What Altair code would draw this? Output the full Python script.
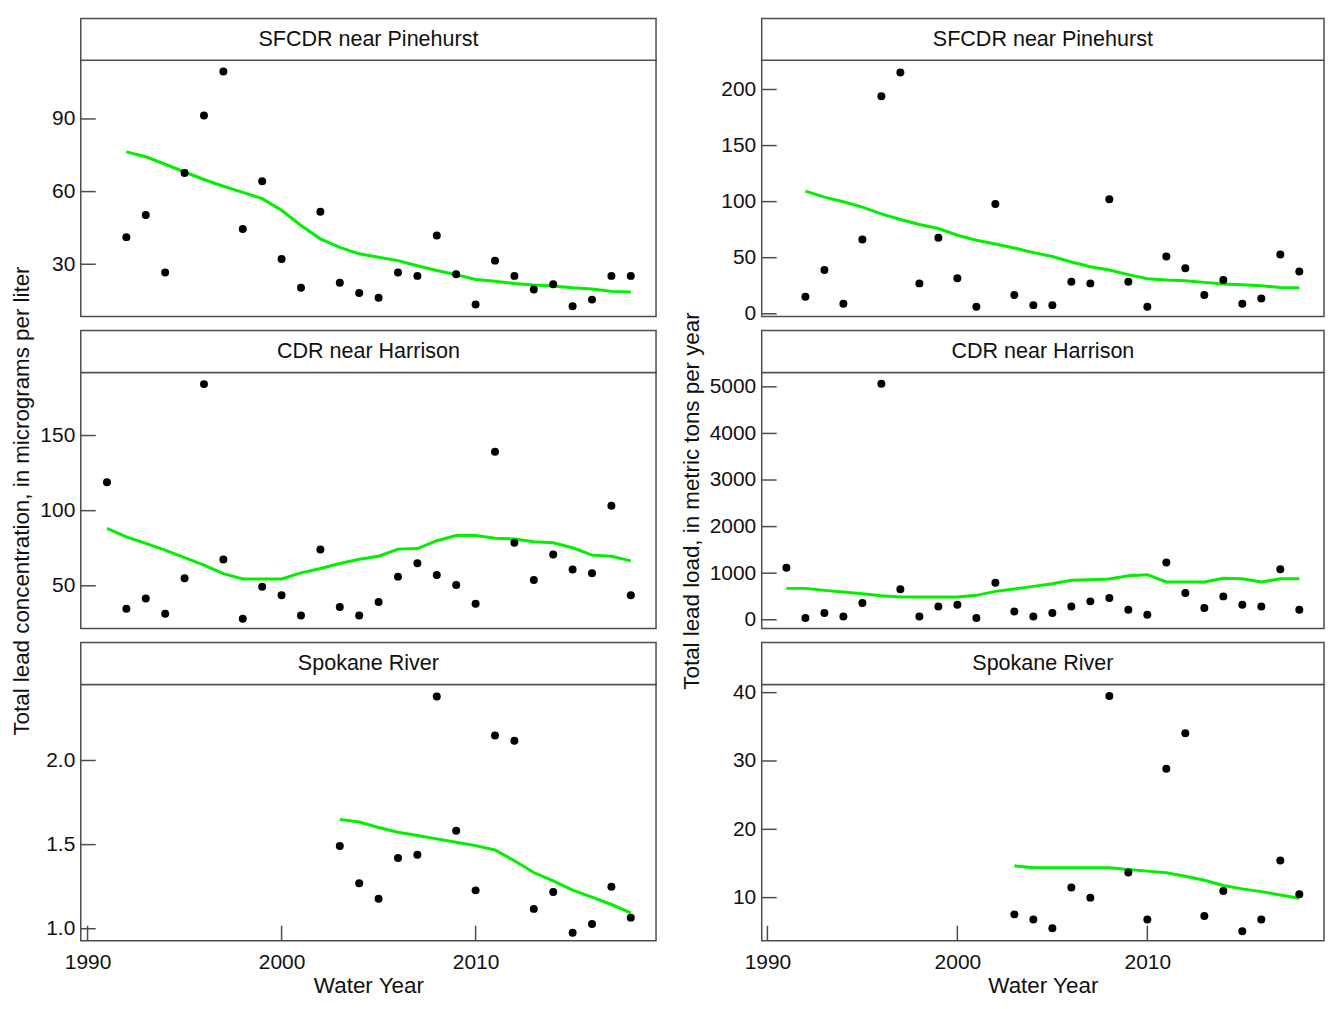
import altair as alt
import pandas as pd

# ---------------- data ----------------
yrs_9218 = list(range(1992, 2019))
yrs_9118 = list(range(1991, 2019))
yrs_0318 = list(range(2003, 2019))

sf_conc = [41.2, 50.3, 26.6, 67.7, 91.4, 109.6, 44.6, 64.3, 32.2, 20.3, 51.7, 22.4, 18.1, 16.2,
           26.6, 25.2, 41.9, 25.9, 13.4, 31.5, 25.2, 19.6, 21.7, 12.7, 15.4, 25.2, 25.2]
sf_conc_fit = [76.4, 74.4, 71.3, 68.1, 65.0, 62.2, 59.7, 57.1, 52.3, 46.0, 40.5, 37.0, 34.3, 32.9,
               31.5, 29.4, 27.4, 25.7, 23.7, 23.0, 22.1, 21.4, 21.0, 20.3, 19.8, 18.8, 18.5]

sf_load = [15.2, 39.0, 8.9, 66.2, 194.0, 215.2, 27.1, 67.7, 31.6, 6.3, 97.8, 16.7, 7.7, 7.7,
           28.6, 27.1, 102.2, 28.6, 6.3, 51.0, 40.5, 16.7, 30.1, 8.9, 13.7, 52.8, 37.6]
sf_load_fit = [109.4, 104.0, 99.9, 95.1, 89.1, 84.1, 79.6, 76.0, 70.0, 65.6, 62.3, 58.7, 54.5, 51.0,
               46.2, 42.0, 39.0, 34.9, 31.3, 30.1, 29.5, 28.0, 26.5, 25.9, 25.0, 23.5, 23.2]

cdr_conc = [118.9, 34.7, 41.6, 31.4, 55.0, 184.2, 67.5, 28.1, 49.4, 43.7, 30.3, 74.2, 35.9, 30.3,
            39.2, 56.1, 65.0, 57.2, 50.6, 38.1, 139.2, 78.6, 53.9, 70.8, 60.8, 58.4, 103.3, 43.7]
cdr_conc_fit = [88.2, 82.6, 78.2, 73.7, 68.8, 63.7, 58.1, 54.6, 54.6, 54.6, 58.6, 61.5, 64.8, 67.7,
                69.7, 74.4, 74.8, 80.0, 83.5, 83.5, 81.7, 81.1, 79.3, 78.6, 75.3, 70.4, 69.7, 66.6]

cdr_load = [1119, 36, 143, 72, 359, 5065, 653, 72, 287, 323, 36, 796, 179, 72,
            143, 287, 395, 466, 215, 108, 1227, 574, 251, 502, 323, 287, 1083, 215]
cdr_load_fit = [674, 674, 631, 595, 560, 516, 488, 488, 488, 488, 524, 610, 660, 717,
                775, 846, 861, 875, 947, 968, 811, 811, 811, 890, 882, 811, 882, 882]

spk_conc = [1.492, 1.27, 1.178, 1.42, 1.44, 2.38, 1.582, 1.228, 2.148, 2.118, 1.118, 1.218,
            0.976, 1.028, 1.25, 1.066]
spk_conc_fit = [1.65, 1.634, 1.602, 1.574, 1.554, 1.534, 1.514, 1.494, 1.468, 1.404, 1.334,
                1.284, 1.23, 1.188, 1.144, 1.094]

spk_load = [7.55, 6.8, 5.53, 11.47, 10.0, 39.5, 13.68, 6.8, 28.85, 34.05, 7.3, 10.98, 5.09,
            6.8, 15.45, 10.49]
spk_load_fit = [14.66, 14.37, 14.37, 14.37, 14.37, 14.37, 14.12, 13.88, 13.63, 13.14, 12.55,
                11.77, 11.28, 10.88, 10.39, 9.9]

sites = ["SFCDR near Pinehurst", "CDR near Harrison", "Spokane River"]
x_ticks = [1990, 2000, 2010]
conc_ticks = [[30, 60, 90], [50, 100, 150], [1.0, 1.5, 2.0]]
load_ticks = [[0, 50, 100, 150, 200], [0, 1000, 2000, 3000, 4000, 5000], [10, 20, 30, 40]]
conc_title = "Total lead concentration, in micrograms per liter"
load_title = "Total lead load, in metric tons per year"
x_title = "Water Year"

# ---------------- styling ----------------
FONT = "Liberation Sans"
FRAME = "#4d4d4d"
TXT = "#111111"
GREEN = "#00f000"
H = 257
HEADER_H = 42
W_LEFT = 577
W_RIGHT = 564
TICK_LEN = 15


def panel(site, years, vals, fit, ydom, yticks, xdom, width, yfmt, show_x, ytitle):
    pts = pd.DataFrame({"year": years, "value": vals})
    fitdf = pd.DataFrame({"year": years, "fit": fit})
    xs = alt.Scale(domain=xdom, nice=False, zero=False)
    ys = alt.Scale(domain=ydom, nice=False, zero=False)

    yaxis = alt.Axis(values=yticks, format=yfmt, ticks=False, tickSize=0, domain=False, grid=False,
                     labelFontSize=21, labelPadding=6, labelFont=FONT, labelColor=TXT,
                     title=ytitle if ytitle else "", titleFont=FONT, titleFontSize=22.4,
                     titleFontWeight="normal", titleColor=TXT, titlePadding=6)
    if show_x:
        xaxis = alt.Axis(values=x_ticks, format="d", ticks=False, tickSize=0, domain=False,
                         grid=False, labelFontSize=21, labelPadding=11, labelFont=FONT,
                         labelColor=TXT, title=x_title, titleFont=FONT, titleFontSize=22.5,
                         titleFontWeight="normal", titleColor=TXT, titlePadding=2)
    else:
        xaxis = None

    header = pd.DataFrame({"site": [site]})
    hrect = alt.Chart(header).mark_rect(fill="white", stroke=FRAME, strokeWidth=1.5).encode(
        x=alt.value(0), x2=alt.value(width), y=alt.value(-HEADER_H), y2=alt.value(0))
    htext = alt.Chart(header).mark_text(font=FONT, fontSize=21.6, color=TXT,
                                        align="center", baseline="middle", dy=1).encode(
        x=alt.value(width / 2), y=alt.value(-HEADER_H / 2), text="site:N")

    ytk = alt.Chart(pd.DataFrame({"v": yticks})).mark_rule(color=FRAME, strokeWidth=1.5).encode(
        x=alt.value(0), x2=alt.value(TICK_LEN), y=alt.Y("v:Q", scale=ys, axis=yaxis))

    line = alt.Chart(fitdf).mark_line(color=GREEN, strokeWidth=3).encode(
        x=alt.X("year:Q", scale=xs, axis=xaxis), y=alt.Y("fit:Q", scale=ys, axis=yaxis))

    points = alt.Chart(pts).mark_circle(size=64, color="black", opacity=1).encode(
        x=alt.X("year:Q", scale=xs, axis=xaxis), y=alt.Y("value:Q", scale=ys, axis=yaxis))

    layers = [hrect, htext, ytk]
    if show_x:
        xtk = alt.Chart(pd.DataFrame({"v": x_ticks})).mark_rule(color=FRAME, strokeWidth=1.5).encode(
            x=alt.X("v:Q", scale=xs, axis=xaxis), y=alt.value(H), y2=alt.value(H - TICK_LEN))
        layers.append(xtk)
    layers += [line, points]
    return alt.layer(*layers).properties(width=width, height=H)


XL = [1989.65, 2019.3]
XR = [1989.7, 2019.3]

p1l = panel(sites[0], yrs_9218, sf_conc, sf_conc_fit, [8.4, 114.2], conc_ticks[0], XL, W_LEFT, "d", False, None)
p1r = panel(sites[0], yrs_9218, sf_load, sf_load_fit, [-2.5, 226], load_ticks[0], XR, W_RIGHT, "d", False, None)
p2l = panel(sites[1], yrs_9118, cdr_conc, cdr_conc_fit, [21.5, 192], conc_ticks[1], XL, W_LEFT, "d", False, conc_title)
p2r = panel(sites[1], yrs_9118, cdr_load, cdr_load_fit, [-190, 5310], load_ticks[1], XR, W_RIGHT, "d", False, load_title)
p3l = panel(sites[2], yrs_0318, spk_conc, spk_conc_fit, [0.929, 2.452], conc_ticks[2], XL, W_LEFT, ".1f", True, None)
p3r = panel(sites[2], yrs_0318, spk_load, spk_load_fit, [3.7, 41.2], load_ticks[2], XR, W_RIGHT, "d", True, None)

chart = alt.concat(p1l, p1r, p2l, p2r, p3l, p3r, columns=2, bounds="flush",
                   spacing={"row": 56, "column": 106}).properties(
    padding={"left": 2, "top": 7, "right": 0, "bottom": 0}
).configure_view(stroke=FRAME, strokeWidth=1.5)

chart.save("out.html", embed_options={"renderer": "svg", "actions": False})
